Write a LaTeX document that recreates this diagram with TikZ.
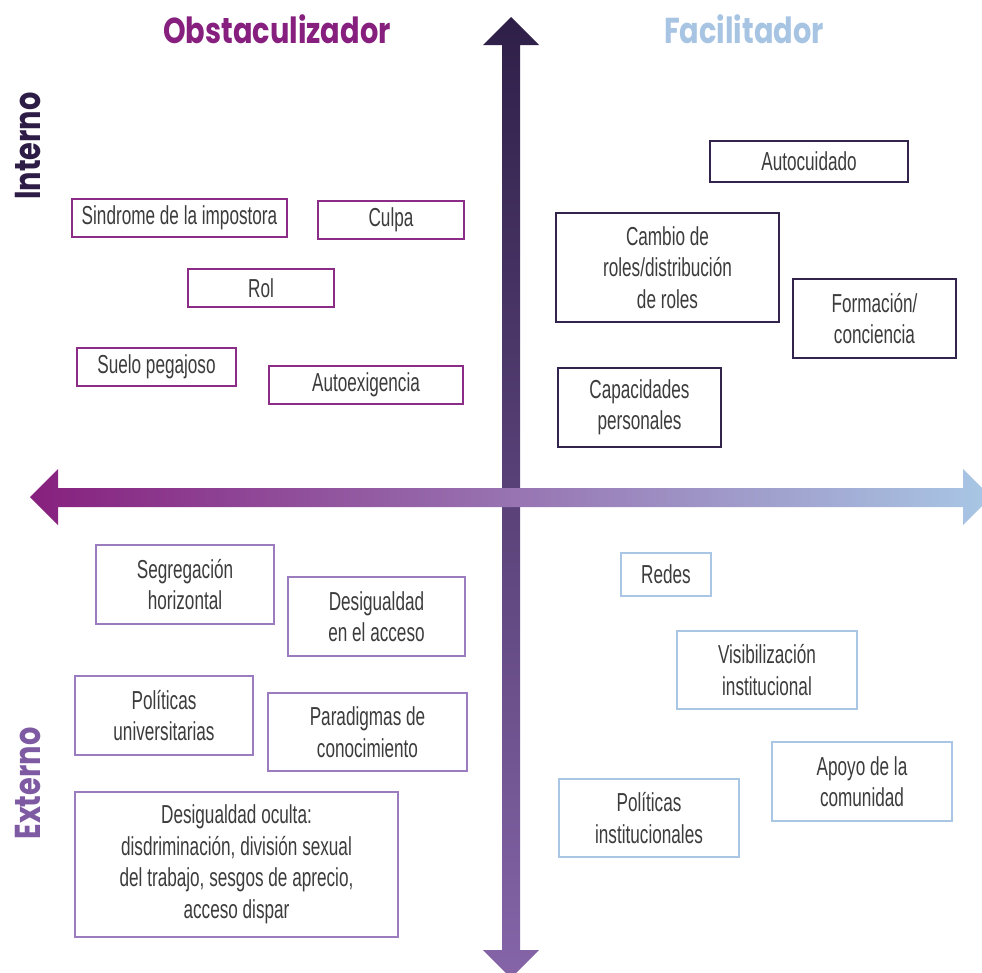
\documentclass[tikz,border=0pt]{standalone}
\usepackage{fontspec}
\setmainfont{Liberation Sans}[FakeStretch=0.66]
\newfontfamily\titlefont{Poppins}[FakeStretch=0.8]
\definecolor{txt}{HTML}{3C3C3C}
\definecolor{obs}{HTML}{861F7D}
\definecolor{fac}{HTML}{A7C4E3}
\definecolor{intc}{HTML}{2D1C45}
\definecolor{extc}{HTML}{7E5AA3}
\definecolor{bObs}{HTML}{8B2C87}
\definecolor{bInt}{HTML}{33244D}
\definecolor{bExt}{HTML}{9A7CBF}
\definecolor{bFac}{HTML}{A9C6E4}
\definecolor{vTop}{HTML}{2E1F48}
\definecolor{vBot}{HTML}{8565A8}
\definecolor{hLeft}{HTML}{87207E}
\definecolor{hMid}{HTML}{9A86BA}
\definecolor{hRight}{HTML}{A8C7E5}
\tikzset{
  qbox/.style={draw, line width=1.1pt, fill=white, inner sep=0pt, align=center,
    text=txt, font=\fontsize{26}{31.5}\selectfont},
  boxobs/.style={qbox, draw=bObs},
  boxint/.style={qbox, draw=bInt},
  boxext/.style={qbox, draw=bExt},
  boxfac/.style={qbox, draw=bFac},
  ttl/.style={font=\titlefont\bfseries\fontsize{36}{40}\selectfont, anchor=base, inner sep=0pt},
}
\begin{document}
\begin{tikzpicture}[x=1pt,y=-1pt]
\useasboundingbox (0,0) rectangle (982,972);
\clip (0,0) rectangle (982,972);
% vertical axis
\shade[top color=vTop, bottom color=vBot]
  (511,17) -- (539,45) -- (520,45) -- (520,950) -- (539,950) -- (511,978)
  -- (483,950) -- (502,950) -- (502,45) -- (483,45) -- cycle;
% horizontal axis
\shade[left color=hLeft, middle color=hMid, right color=hRight]
  (30,497) -- (58,469) -- (58,488) -- (963,488) -- (963,469) -- (991,497)
  -- (963,525) -- (963,507) -- (58,507) -- (58,525) -- cycle;
% titles
\node[ttl, text=obs] (tobs) at (277,43) {Obstaculizador};
\node[ttl, text=fac] (tfac) at (744,43) {Facilitador};
\node[ttl, text=intc, rotate=90] (tint) at (40,146) {Interno};
\node[ttl, text=extc, rotate=90] (text) at (40,783.5) {Externo};
% obstaculizador / interno
\node[boxobs, minimum width=215, minimum height=38] (sind) at (179.5,218) {Sindrome de la impostora};
\node[boxobs, minimum width=146, minimum height=38] (culpa) at (391,220) {Culpa};
\node[boxobs, minimum width=146, minimum height=38] (rol) at (261,288) {Rol};
\node[boxobs, minimum width=159, minimum height=38] (suelo) at (156.5,367) {Suelo pegajoso};
\node[boxobs, minimum width=194, minimum height=38] (autoex) at (366,385) {Autoexigencia};
% facilitador / interno
\node[boxint, minimum width=198, minimum height=41] (autoc) at (809,161.5) {Autocuidado};
\node[boxint, minimum width=223, minimum height=109] (cambio) at (667.5,267.5) {Cambio de\\roles/distribución\\de roles};
\node[boxint, minimum width=163, minimum height=79] (formacion) at (874.5,318.5) {Formación/\\conciencia};
\node[boxint, minimum width=163, minimum height=79] (capac) at (639.5,407.5) {Capacidades\\personales};
% obstaculizador / externo
\node[boxext, minimum width=178, minimum height=79] (segreg) at (185,584.5) {Segregación\\horizontal};
\node[boxext, minimum width=177, minimum height=79] (desacc) at (376.5,616.5) {Desigualdad\\en el acceso};
\node[boxext, minimum width=178, minimum height=79] (polu) at (164,715.5) {Políticas\\universitarias};
\node[boxext, minimum width=199, minimum height=78] (parad) at (367.5,732) {Paradigmas de\\conocimiento};
\node[boxext, minimum width=323, minimum height=145] (oculta) at (236.5,864.5) {Desigualdad oculta:\\disdriminación, división sexual\\del trabajo, sesgos de aprecio,\\acceso dispar};
% facilitador / externo
\node[boxfac, minimum width=90, minimum height=43] (redes) at (666,574.5) {Redes};
\node[boxfac, minimum width=180, minimum height=78] (visib) at (767,670) {Visibilización\\institucional};
\node[boxfac, minimum width=180, minimum height=79] (apoyo) at (862,781.5) {Apoyo de la\\comunidad};
\node[boxfac, minimum width=180, minimum height=78] (polinst) at (649,818) {Políticas\\institucionales};
\end{tikzpicture}
\end{document}
